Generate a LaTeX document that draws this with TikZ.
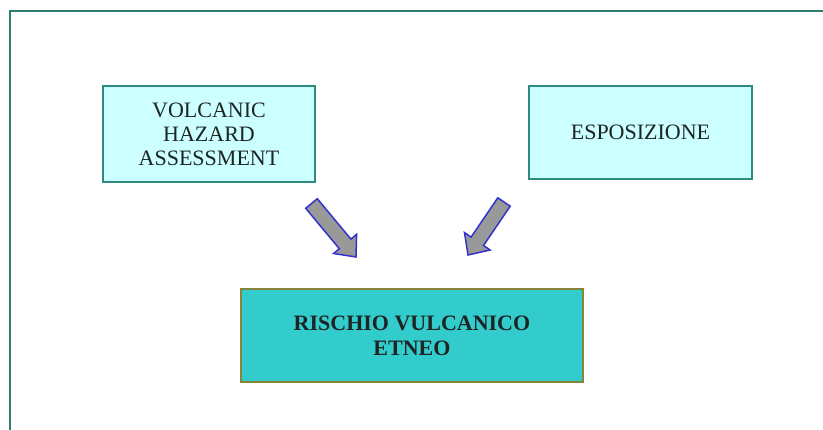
\documentclass[tikz,border=0pt]{standalone}
\usepackage{fontspec}
\setmainfont{Liberation Serif}
\definecolor{frameteal}{HTML}{2E7F72}
\definecolor{boxborder}{HTML}{2F8A80}
\definecolor{lightcyan}{HTML}{CCFFFF}
\definecolor{midcyan}{HTML}{33CCCC}
\definecolor{olive}{HTML}{86863A}
\definecolor{arrowgray}{HTML}{999999}
\definecolor{arrowblue}{HTML}{3333CC}
\definecolor{txt}{HTML}{1E2424}
\tikzset{
  inbox/.style={draw=boxborder, line width=2pt, fill=lightcyan, inner sep=0pt,
    align=center, text=txt, font=\fontsize{22}{24}\selectfont, anchor=north west},
  outbox/.style={draw=olive, line width=2pt, fill=midcyan, inner sep=0pt,
    align=center, text=txt, font=\fontsize{22}{25}\selectfont\bfseries, anchor=north west},
  blockarrow/.style={draw=arrowblue, fill=arrowgray, line width=1.5pt, line join=miter}
}
\begin{document}
\begin{tikzpicture}[x=1pt,y=-1pt]
\useasboundingbox (0,0) rectangle (823,430);
\fill[white] (0,0) rectangle (823,430);
\draw[frameteal, line width=2.2pt] (10,445) -- (10,11) -- (840,11);
\node[inbox, minimum width=212pt, minimum height=96pt] (vha) at (102,85)
  {VOLCANIC\\HAZARD\\ASSESSMENT};
\node[inbox, minimum width=223pt, minimum height=93pt] (esp) at (528,85)
  {ESPOSIZIONE};
\node[outbox, minimum width=342pt, minimum height=93pt] (rve) at (240,288)
  {RISCHIO VULCANICO\\ETNEO};
\coordinate (tipL) at (356,257);
\coordinate (tipR) at (468,255);
\draw[blockarrow] (305.7,208.3) -- (317.3,198.7) -- (350.9,239.1) -- (356.6,234.3)
  -- (tipL) -- (333.6,253.5) -- (339.3,248.7) -- cycle;
\draw[blockarrow] (497.8,197.8) -- (510.2,206.2) -- (483.5,245.5) -- (490.1,250.0)
  -- (tipR) -- (464.5,232.6) -- (471.1,237.1) -- cycle;
\end{tikzpicture}
\end{document}
